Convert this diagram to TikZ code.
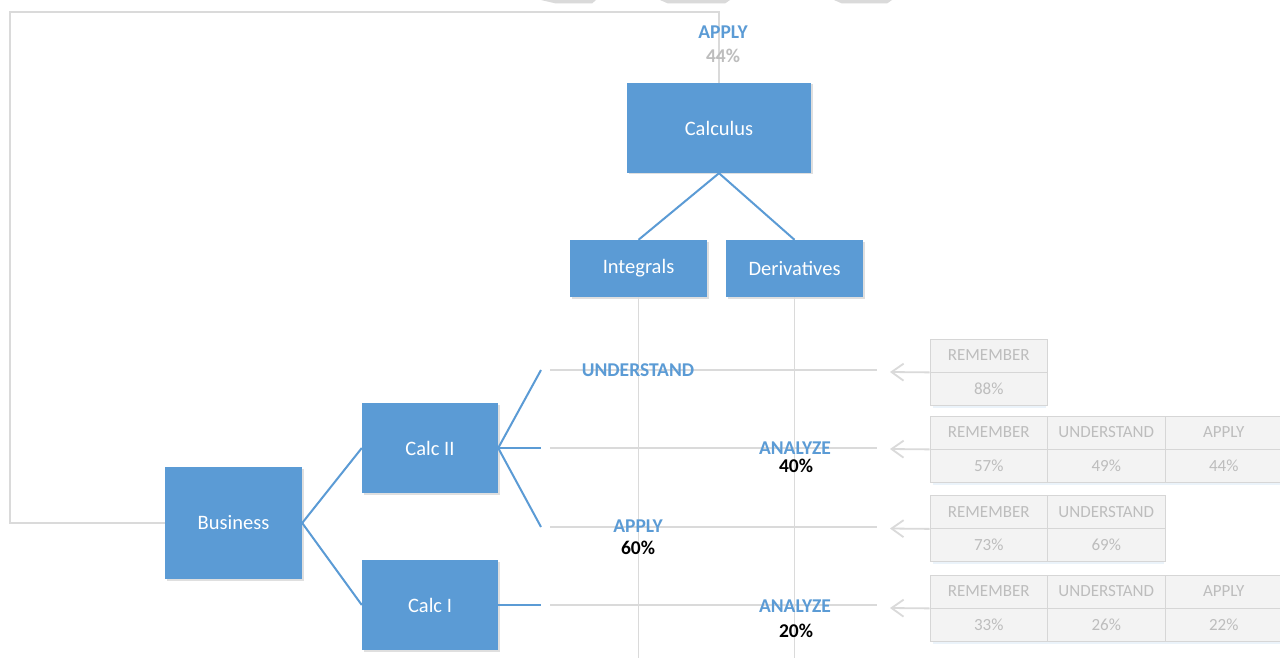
\documentclass[tikz,border=0pt]{standalone}
\usepackage{fontspec}
\setmainfont{Carlito}
\usetikzlibrary{arrows.meta,shadows}
\definecolor{boxblue}{HTML}{5B9BD5}
\definecolor{lgray}{HTML}{DADADA}
\definecolor{tgray}{HTML}{BDBDBD}
\definecolor{cellfill}{HTML}{F3F3F3}
\definecolor{celldraw}{HTML}{D6D6D6}
\begin{document}
\begin{tikzpicture}[x=1pt,y=-1pt,
  topic/.style={fill=boxblue, draw=none, text=white, inner sep=0pt,
    font=\fontsize{20.5}{24}\selectfont,
    drop shadow={opacity=0.25, fill=gray, shadow xshift=1.5pt, shadow yshift=-1.5pt}},
  link/.style={draw=boxblue, line width=2pt},
  guide/.style={draw=lgray, line width=1.8pt},
  lvl/.style={text=boxblue, font=\bfseries\fontsize{19.5}{22}\selectfont, inner sep=0pt},
  pct/.style={text=black, font=\bfseries\fontsize{19.5}{22}\selectfont, inner sep=0pt},
  cell/.style={draw=celldraw, fill=cellfill, text=tgray, line width=0.8pt,
    minimum width=117.5pt, minimum height=33pt, inner sep=0pt,
    font=\fontsize{17}{19}\selectfont},
  back/.style={draw=lgray, line width=1.8pt, -{Straight Barb[length=12pt,width=17pt,line width=1.8pt]}},
  tab/.style={fill=lgray, draw=none}
]
\useasboundingbox (0,0) rectangle (1280,658);
\fill[white] (0,0) rectangle (1280,658);

% top slanted bits
\fill[tab] (541,0) -- (596,0) -- (592,3.5) -- (556,3.5) -- cycle;
\fill[tab] (660,0) -- (730,0) -- (725,3.5) -- (668,3.5) -- cycle;
\fill[tab] (834,0) -- (892,0) -- (887,3.5) -- (842,3.5) -- cycle;

% nodes
\node[topic, minimum width=184pt, minimum height=90pt] (calc) at (719,128) {Calculus};
\node[topic, minimum width=137pt, minimum height=57pt] (int) at (638.5,268.5) {Integrals};
\node[topic, minimum width=137pt, minimum height=57pt] (der) at (794.5,268.5) {Derivatives};
\node[topic, minimum width=137pt, minimum height=112pt] (bus) at (233.5,523) {Business};
\node[topic, minimum width=136pt, minimum height=90pt] (c2) at (430,448) {Calc II};
\node[topic, minimum width=136pt, minimum height=90pt] (c1) at (430,605) {Calc I};

% outer loop
\coordinate (o1) at (10,523);
\coordinate (o2) at (10,12);
\coordinate (o3) at (719,12);
\draw[guide, line width=2pt] (bus.west) -- (o1) -- (o2) -- (o3) -- (calc.north);

% vertical guides
\coordinate (vi) at (638.5,660);
\coordinate (vd) at (794.5,660);
\draw[guide] (int.south) -- (vi);
\draw[guide] (der.south) -- (vd);

% blue links
\draw[link] (calc.south) -- (int.north);
\draw[link] (calc.south) -- (der.north);
\draw[link] (bus.east) -- (c2.west);
\draw[link] (bus.east) -- (c1.west);
\coordinate (eu) at (541,370);
\coordinate (ea) at (541,448);
\coordinate (ep) at (541,527);
\coordinate (ec) at (541,605);
\draw[link] (c2.east) -- (eu);
\draw[link] (c2.east) -- (ea);
\draw[link] (c2.east) -- (ep);
\draw[link] (c1.east) -- (ec);

% horizontal guides
\coordinate (gu1) at (550,370); \coordinate (gu2) at (877,370);
\coordinate (ga1) at (550,448); \coordinate (ga2) at (877,448);
\coordinate (gp1) at (550,527); \coordinate (gp2) at (877,527);
\coordinate (gc1) at (550,605); \coordinate (gc2) at (877,605);
\draw[guide] (gu1) -- (gu2);
\draw[guide] (ga1) -- (ga2);
\draw[guide] (gp1) -- (gp2);
\draw[guide] (gc1) -- (gc2);

% labels
\node[lvl] (topapply) at (723,32) {APPLY};
\node[text=tgray, font=\bfseries\fontsize{19.5}{22}\selectfont, inner sep=0pt] (toppct) at (723,56) {44\%};
\node[lvl] (lu) at (638,370) {UNDERSTAND};
\node[lvl] (la1) at (795,448) {ANALYZE};
\node[pct] (pa1) at (796,466) {40\%};
\node[lvl] (lp) at (638,526) {APPLY};
\node[pct] (pp) at (638,548) {60\%};
\node[lvl] (la2) at (795,606) {ANALYZE};
\node[pct] (pa2) at (796,631) {20\%};

% tables
\begin{scope}[every node/.append style={cell}]
\fill[boxblue!12] (933,405) rectangle (1046,408);
\node (r1h1) at (988.75,355.5) {REMEMBER};
\node (r1v1) at (988.75,388.5) {88\%};

\fill[boxblue!12] (933,482) rectangle (1280,485);
\node (r2h1) at (988.75,432.5) {REMEMBER};
\node (r2v1) at (988.75,465.5) {57\%};
\node (r2h2) at (1106.25,432.5) {UNDERSTAND};
\node (r2v2) at (1106.25,465.5) {49\%};
\node (r2h3) at (1223.75,432.5) {APPLY};
\node (r2v3) at (1223.75,465.5) {44\%};

\fill[boxblue!12] (933,561) rectangle (1164,564);
\node (r3h1) at (988.75,512) {REMEMBER};
\node (r3v1) at (988.75,545) {73\%};
\node (r3h2) at (1106.25,512) {UNDERSTAND};
\node (r3v2) at (1106.25,545) {69\%};

\fill[boxblue!12] (933,641) rectangle (1280,644);
\node (r4h1) at (988.75,591.5) {REMEMBER};
\node (r4v1) at (988.75,624.5) {33\%};
\node (r4h2) at (1106.25,591.5) {UNDERSTAND};
\node (r4v2) at (1106.25,624.5) {26\%};
\node (r4h3) at (1223.75,591.5) {APPLY};
\node (r4v3) at (1223.75,624.5) {22\%};
\end{scope}

% back arrows
\coordinate (b1) at (890,372);
\coordinate (b2) at (890,449);
\coordinate (b3) at (890,528.5);
\coordinate (b4) at (890,608);
\draw[back] (r1h1.south west) -- (b1);
\draw[back] (r2h1.south west) -- (b2);
\draw[back] (r3h1.south west) -- (b3);
\draw[back] (r4h1.south west) -- (b4);
\end{tikzpicture}
\end{document}
